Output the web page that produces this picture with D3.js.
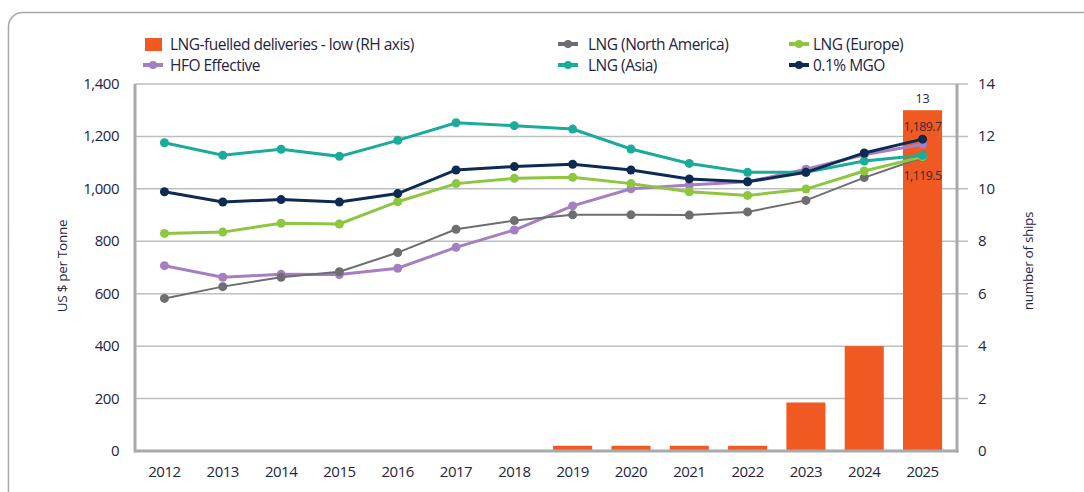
<!DOCTYPE html>
<html>
<head>
<meta charset="utf-8">
<script src="https://cdn.jsdelivr.net/npm/d3@7"></script>
<style>
  body { margin: 0; background: #fff; }
  text { font-family: "Open Sans", "Noto Sans", sans-serif; fill: #1f2442; }
</style>
</head>
<body>
<div id="chart"></div>
<script>
// Data
const years = ["2012","2013","2014","2015","2016","2017","2018","2019","2020","2021","2022","2023","2024","2025"]
const deliveries = [0, 0, 0, 0, 0, 0, 0, 0.2, 0.2, 0.2, 0.2, 1.85, 4, 13]
const hfoEffective = [707, 663, 674, 673, 697, 777, 843, 935, 1000, 1015, 1027, 1075, 1130, 1170]
const lngNorthAmerica = [582, 627, 663, 684, 757, 846, 879, 901, 901, 900, 912, 956, 1043, 1119.5]
const lngAsia = [1176, 1128, 1151, 1124, 1185, 1252, 1241, 1228, 1152, 1097, 1063, 1063, 1106, 1128]
const lngEurope = [830, 835, 869, 866, 951, 1020, 1040, 1044, 1020, 989, 975, 999, 1068, 1122]
const mgo = [989, 950, 959, 950, 982, 1072, 1085, 1094, 1072, 1038, 1027, 1063, 1137, 1189.7]
const leftTicks = [0, 200, 400, 600, 800, 1000, 1200, 1400]
const rightTicks = [0, 2, 4, 6, 8, 10, 12, 14]

const series = [
  { name: "HFO Effective", values: hfoEffective, color: "#a57fc1", width: 3 },
  { name: "LNG (North America)", values: lngNorthAmerica, color: "#6d6e71", width: 2 },
  { name: "LNG (Europe)", values: lngEurope, color: "#8dc63f", width: 3 },
  { name: "LNG (Asia)", values: lngAsia, color: "#1aab9b", width: 3 },
  { name: "0.1% MGO", values: mgo, color: "#0d2b52", width: 3 }
]

const W = 1084, H = 492
const plot = { left: 135, right: 957, top: 84, bottom: 451 }

const svg = d3.select("#chart").append("svg")
    .attr("width", W)
    .attr("height", H)

// outer frame, runs off the right and bottom of the picture
svg.append("rect")
    .attr("x", 8.5).attr("y", 12.5)
    .attr("width", 1120).attr("height", 520)
    .attr("rx", 14)
    .attr("fill", "none")
    .attr("stroke", "#a7a9ac")
    .attr("stroke-width", 1.5)

const x = d3.scaleBand()
    .domain(years)
    .range([plot.left, 952])
    .paddingInner(0.33)
    .paddingOuter(0.17)

const y = d3.scaleLinear().domain([0, 1400]).range([plot.bottom, plot.top])
const y2 = d3.scaleLinear().domain([0, 14]).range([plot.bottom, plot.top])

const cx = d => x(d) + x.bandwidth() / 2

// gridlines (stick out past right axis as ticks)
svg.append("g")
  .selectAll("line")
  .data(leftTicks.filter(t => t > 0))
  .join("line")
    .attr("x1", plot.left).attr("x2", 968)
    .attr("y1", d => y(d)).attr("y2", d => y(d))
    .attr("stroke", "#bcbec0")
    .attr("stroke-width", 1.5)

// bars
svg.append("g")
  .selectAll("rect")
  .data(deliveries)
  .join("rect")
    .attr("x", (d, i) => x(years[i]))
    .attr("width", x.bandwidth())
    .attr("y", d => y2(d))
    .attr("height", d => plot.bottom - y2(d))
    .attr("fill", "#f05a22")

// axis lines
svg.append("line")
    .attr("x1", plot.left).attr("x2", plot.left)
    .attr("y1", plot.top).attr("y2", plot.bottom + 1.5)
    .attr("stroke", "#a7a9ac").attr("stroke-width", 3)
svg.append("line")
    .attr("x1", plot.right).attr("x2", plot.right)
    .attr("y1", plot.top).attr("y2", plot.bottom + 1.5)
    .attr("stroke", "#a7a9ac").attr("stroke-width", 3)
svg.append("line")
    .attr("x1", plot.left).attr("x2", plot.right + 1.5)
    .attr("y1", plot.bottom).attr("y2", plot.bottom)
    .attr("stroke", "#a7a9ac").attr("stroke-width", 3)

// tick labels
svg.append("g")
  .selectAll("text")
  .data(leftTicks)
  .join("text")
    .attr("x", 119).attr("y", d => y(d) + 5)
    .attr("text-anchor", "end")
    .attr("font-size", 15)
    .attr("letter-spacing", -0.5)
    .text(d => d3.format(",")(d))

svg.append("g")
  .selectAll("text")
  .data(rightTicks)
  .join("text")
    .attr("x", 978).attr("y", d => y2(d) + 5)
    .attr("font-size", 15)
    .text(d => d)

svg.append("g")
  .selectAll("text")
  .data(years)
  .join("text")
    .attr("x", d => cx(d)).attr("y", 477)
    .attr("text-anchor", "middle")
    .attr("font-size", 15)
    .attr("letter-spacing", -0.5)
    .text(d => d)

// axis titles
svg.append("text")
    .attr("transform", "translate(67,266) rotate(-90)")
    .attr("text-anchor", "middle")
    .attr("font-size", 13.5)
    .attr("letter-spacing", -0.3)
    .text("US $ per Tonne")
svg.append("text")
    .attr("transform", "translate(1033,261) rotate(-90)")
    .attr("text-anchor", "middle")
    .attr("font-size", 13.5)
    .attr("letter-spacing", -0.3)
    .text("number of ships")

// lines + markers
const line = d3.line()
    .x((d, i) => cx(years[i]))
    .y(d => y(d))

series.forEach(s => {
  const g = svg.append("g")
  g.append("path")
      .attr("d", line(s.values))
      .attr("fill", "none")
      .attr("stroke", s.color)
      .attr("stroke-width", s.width)
  g.selectAll("circle")
    .data(s.values)
    .join("circle")
      .attr("cx", (d, i) => cx(years[i]))
      .attr("cy", d => y(d))
      .attr("r", 4.5)
      .attr("fill", s.color)
})

// value labels at 2025
const last = years[years.length - 1]
svg.append("text")
    .attr("x", cx(last)).attr("y", y2(deliveries[13]) - 7)
    .attr("text-anchor", "middle").attr("font-size", 12.5)
    .text(deliveries[13])
svg.append("text")
    .attr("x", cx(last)).attr("y", y(mgo[13]) - 8)
    .attr("text-anchor", "middle").attr("font-size", 12.5)
    .attr("letter-spacing", -0.6)
    .style("fill", "#3b2a2a")
    .text(d3.format(",.1f")(mgo[13]))
svg.append("text")
    .attr("x", cx(last)).attr("y", y(lngNorthAmerica[13]) + 22)
    .attr("text-anchor", "middle").attr("font-size", 12.5)
    .attr("letter-spacing", -0.6)
    .style("fill", "#3b2a2a")
    .text(d3.format(",.1f")(lngNorthAmerica[13]))

// legend
const legendItems = [
  { name: "LNG-fuelled deliveries - low (RH axis)", color: "#f05a22", bar: true, x: 145, tx: 170, y: 44 },
  { name: "HFO Effective", color: series[0].color, x: 143, tx: 170, y: 65 },
  { name: "LNG (North America)", color: series[1].color, x: 558, tx: 588, y: 44 },
  { name: "LNG (Asia)", color: series[3].color, x: 558, tx: 588, y: 65 },
  { name: "LNG (Europe)", color: series[2].color, x: 789, tx: 813, y: 44 },
  { name: "0.1% MGO", color: series[4].color, x: 789, tx: 813, y: 65 }
]

const lg = svg.append("g").selectAll("g")
  .data(legendItems)
  .join("g")
    .attr("transform", d => `translate(${d.x},${d.y})`)

lg.filter(d => d.bar).append("rect")
    .attr("x", 0).attr("y", -6).attr("width", 17).attr("height", 13)
    .attr("fill", d => d.color)
lg.filter(d => !d.bar).append("line")
    .attr("x1", 0).attr("x2", 20).attr("y1", 0).attr("y2", 0)
    .attr("stroke", d => d.color).attr("stroke-width", 4)
lg.filter(d => !d.bar).append("circle")
    .attr("cx", 10).attr("cy", 0).attr("r", 4)
    .attr("fill", d => d.color)
lg.append("text")
    .attr("x", d => d.tx - d.x).attr("y", 6)
    .attr("font-size", 15.5)
    .attr("letter-spacing", -0.5)
    .text(d => d.name)
</script>
</body>
</html>
